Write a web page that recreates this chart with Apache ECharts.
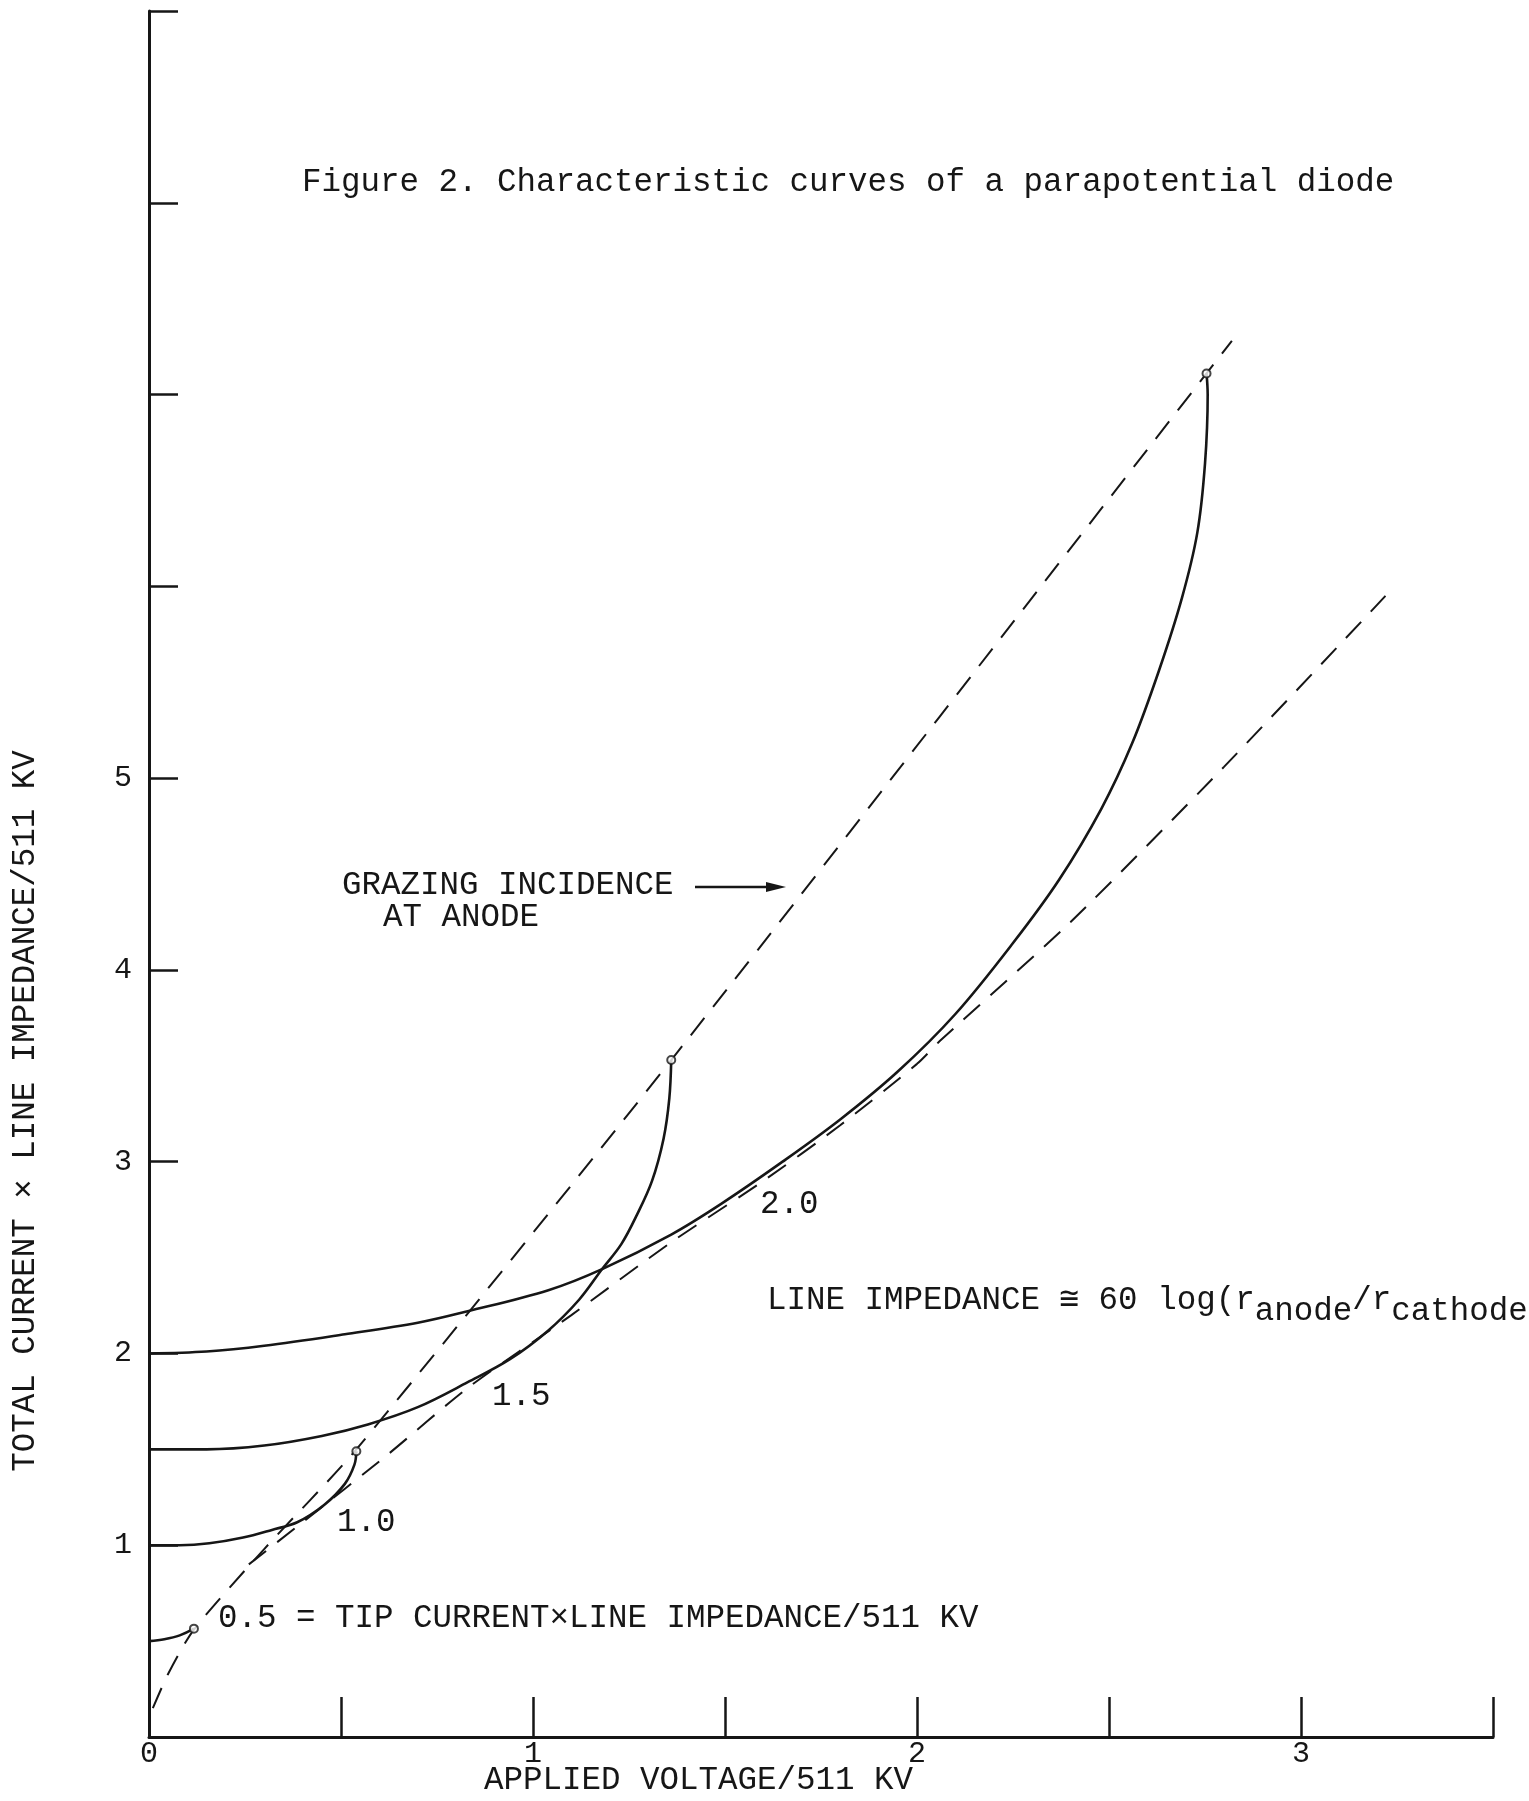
<!DOCTYPE html>
<html>
<head>
<meta charset="utf-8">
<script src="https://cdn.jsdelivr.net/npm/echarts@6/dist/echarts.min.js"></script>
<style>
    html, body { margin: 0; padding: 0; background: #fff; }
    #main { width: 1529px; height: 1801px; }
</style>
</head>
<body>
<div id="main"></div>
<script>
// tick labels shown on the axes
const xLabels = [0, 1, 2, 3]
const yLabels = [1, 2, 3, 4, 5]

// curves: [applied voltage, total current]
const curve05 = [[0, 0.5], [0.04, 0.51], [0.08, 0.53], [0.117, 0.565]]
const curve10 = [[0, 1.0], [0.08, 1.0], [0.157, 1.01], [0.245, 1.04], [0.32, 1.08], [0.386, 1.12], [0.456, 1.21], [0.51, 1.32], [0.535, 1.42], [0.54, 1.49]]
const curve15 = [[0, 1.5], [0.15, 1.5], [0.3, 1.52], [0.45, 1.57], [0.57, 1.63], [0.7, 1.72], [0.83, 1.85], [0.94, 1.97], [1.04, 2.12], [1.12, 2.28], [1.18, 2.44], [1.23, 2.57], [1.27, 2.72], [1.31, 2.9], [1.34, 3.12], [1.355, 3.33], [1.36, 3.53]]
const curve20 = [[0, 2.0], [0.15, 2.01], [0.3, 2.04], [0.51, 2.1], [0.7, 2.16], [0.83, 2.22], [1.04, 2.33], [1.18, 2.44], [1.36, 2.62], [1.49, 2.78], [1.65, 3.0], [1.8, 3.22], [1.95, 3.47], [2.1, 3.77], [2.25, 4.14], [2.37, 4.47], [2.48, 4.84], [2.56, 5.18], [2.63, 5.56], [2.69, 5.94], [2.73, 6.28], [2.75, 6.64], [2.757, 7.0], [2.754, 7.11]]
// dashed: grazing incidence at anode, and the lower envelope
const grazing = [[0.01, 0.15], [0.05, 0.33], [0.117, 0.56], [0.3, 0.98], [0.54, 1.5], [1.36, 3.53], [2.754, 7.11], [2.82, 7.28]]
const envelope = [[0.26, 0.9], [0.4, 1.12], [0.62, 1.47], [0.83, 1.82], [1.1, 2.2], [1.36, 2.58], [1.6, 2.9], [1.8, 3.19], [2.0, 3.51], [2.06, 3.63], [2.4, 4.25], [2.8, 5.06], [3.22, 5.95]]

const ink = '#161616'
const font = "'Liberation Mono', 'Courier New', monospace"
const textFont = `32.5px ${font}`

const chart = echarts.init(document.getElementById('main'))

const solid = (data) => ({
    type: 'line',
    data: data,
    smooth: 0.35,
    symbol: 'none',
    lineStyle: { color: ink, width: 2.6 },
    z: 3,
})
const dashed = (data) => ({
    type: 'line',
    data: data,
    smooth: 0.25,
    symbol: 'none',
    lineStyle: { color: ink, width: 2, type: [22, 14] },
    z: 2,
})

chart.setOption({
    backgroundColor: '#fff',
    animation: false,
    grid: { left: 149, right: 36, top: 11, bottom: 64 },
    xAxis: {
        type: 'value',
        min: 0,
        max: 3.5,
        interval: 0.5,
        axisLine: { show: true, lineStyle: { color: ink, width: 3 } },
        axisTick: { show: true, inside: true, length: 40, lineStyle: { color: ink, width: 2.5 } },
        splitLine: { show: false },
        axisLabel: {
            color: ink,
            fontFamily: font,
            fontSize: 30,
            margin: 2,
            formatter: (v) => (xLabels.includes(v) ? String(v) : ''),
        },
    },
    yAxis: {
        type: 'value',
        min: 0,
        max: 9,
        interval: 1,
        axisLine: { show: true, lineStyle: { color: ink, width: 3 } },
        axisTick: { show: true, inside: true, length: 29, lineStyle: { color: ink, width: 2.5 } },
        splitLine: { show: false },
        axisLabel: {
            color: ink,
            fontFamily: font,
            fontSize: 30,
            margin: 17,
            formatter: (v) => (yLabels.includes(v) ? String(v) : ''),
        },
    },
    series: [
        solid(curve05),
        solid(curve10),
        solid(curve15),
        solid(curve20),
        dashed(grazing),
        dashed(envelope),
        {
            // small open circles where each curve stops
            type: 'scatter',
            data: [curve05, curve10, curve15, curve20].map((c) => c[c.length - 1]),
            symbol: 'circle',
            symbolSize: 8,
            itemStyle: { color: '#fff', borderColor: ink, borderWidth: 2 },
            z: 4,
        },
    ],
    graphic: [
        {
            type: 'text',
            left: 302,
            top: 166,
            style: { text: 'Figure 2. Characteristic curves of a parapotential diode', font: textFont, fill: ink },
        },
        {
            type: 'text',
            x: 25,
            y: 1111,
            rotation: Math.PI / 2,
            style: {
                text: 'TOTAL CURRENT × LINE IMPEDANCE/511 KV',
                font: textFont,
                fill: ink,
                align: 'center',
                verticalAlign: 'middle',
            },
        },
        {
            type: 'text',
            left: 484,
            top: 1764,
            style: { text: 'APPLIED VOLTAGE/511 KV', font: textFont, fill: ink },
        },
        {
            type: 'text',
            left: 342,
            top: 869,
            style: { text: 'GRAZING INCIDENCE', font: textFont, fill: ink },
        },
        {
            type: 'text',
            left: 383,
            top: 901,
            style: { text: 'AT ANODE', font: textFont, fill: ink },
        },
        {
            type: 'line',
            shape: { x1: 695, y1: 887, x2: 770, y2: 887 },
            style: { stroke: ink, lineWidth: 2.5 },
        },
        {
            type: 'polygon',
            shape: { points: [[766, 882], [786, 887], [766, 892]] },
            style: { fill: ink },
        },
        { type: 'text', left: 760, top: 1188, style: { text: '2.0', font: textFont, fill: ink } },
        { type: 'text', left: 492, top: 1380, style: { text: '1.5', font: textFont, fill: ink } },
        { type: 'text', left: 337, top: 1506, style: { text: '1.0', font: textFont, fill: ink } },
        {
            type: 'text',
            left: 218,
            top: 1602,
            style: { text: '0.5 = TIP CURRENT×LINE IMPEDANCE/511 KV', font: textFont, fill: ink },
        },
        {
            type: 'text',
            left: 767,
            top: 1284,
            style: {
                text: 'LINE IMPEDANCE ≅ 60 log(r{sub|anode}/r{sub|cathode}',
                font: textFont,
                fill: ink,
                rich: {
                    sub: { font: textFont, fill: ink, padding: [22, 0, 0, 0] },
                },
            },
        },
    ],
})
</script>
</body>
</html>
